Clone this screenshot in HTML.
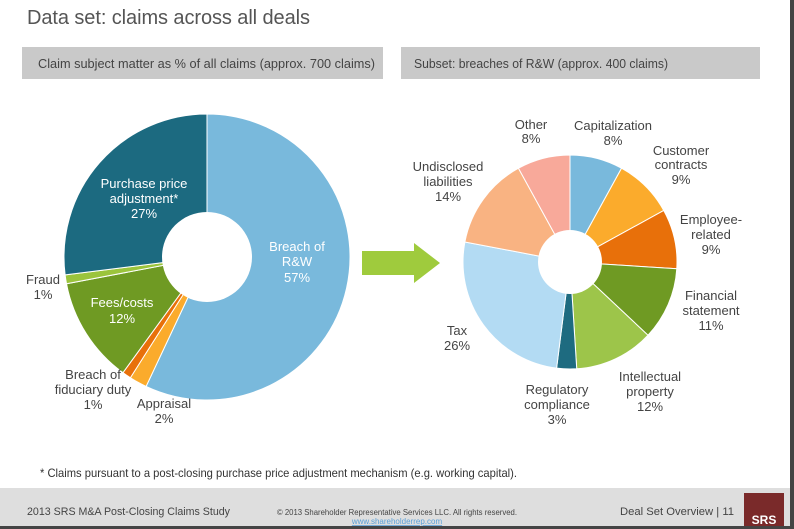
<!DOCTYPE html><html><head><style>
body{margin:0;width:794px;height:529px;overflow:hidden;background:#fff;font-family:"Liberation Sans",sans-serif;position:relative}
</style></head><body>
<svg id="s" width="794" height="529" style="position:absolute;left:0;top:0" font-family="Liberation Sans, sans-serif">
<rect x="0" y="0" width="794" height="529" fill="#fff"/>
<text x="27" y="24" font-size="20" fill="#555" textLength="283">Data set: claims across all deals</text>
<rect x="22" y="47" width="361" height="32" fill="#c9c9c9"/>
<rect x="401" y="47" width="359" height="32" fill="#c9c9c9"/>
<text x="38" y="68" font-size="13" fill="#444" textLength="337" lengthAdjust="spacingAndGlyphs">Claim subject matter as % of all claims (approx. 700 claims)</text>
<text x="414" y="68" font-size="13" fill="#444" textLength="254" lengthAdjust="spacingAndGlyphs">Subset: breaches of R&amp;W (approx. 400 claims)</text>
<g id="p"></g>
<polygon points="362,251 414,251 414,243 440,263 414,283 414,275 362,275" fill="#9fcb3d"/>
<g font-size="13" fill="#444" text-anchor="middle">
<text x="297" y="251" fill="#fff">Breach of</text><text x="297" y="266" fill="#fff">R&amp;W</text><text x="297" y="282" fill="#fff">57%</text>
<text x="144" y="188" fill="#fff">Purchase price</text><text x="144" y="203" fill="#fff">adjustment*</text><text x="144" y="218" fill="#fff">27%</text>
<text x="122" y="307" fill="#fff">Fees/costs</text><text x="122" y="323" fill="#fff">12%</text>
<text x="43" y="284">Fraud</text><text x="43" y="299">1%</text>
<text x="93" y="379">Breach of</text><text x="93" y="394">fiduciary duty</text><text x="93" y="409">1%</text>
<text x="164" y="408">Appraisal</text><text x="164" y="423">2%</text>
<text x="531" y="129">Other</text><text x="531" y="143">8%</text>
<text x="613" y="130">Capitalization</text><text x="613" y="145">8%</text>
<text x="681" y="155">Customer</text><text x="681" y="169">contracts</text><text x="681" y="184">9%</text>
<text x="711" y="224">Employee-</text><text x="711" y="239">related</text><text x="711" y="254">9%</text>
<text x="711" y="300">Financial</text><text x="711" y="315">statement</text><text x="711" y="330">11%</text>
<text x="650" y="381">Intellectual</text><text x="650" y="396">property</text><text x="650" y="411">12%</text>
<text x="557" y="394">Regulatory</text><text x="557" y="409">compliance</text><text x="557" y="424">3%</text>
<text x="457" y="335">Tax</text><text x="457" y="350">26%</text>
<text x="448" y="171">Undisclosed</text><text x="448" y="186">liabilities</text><text x="448" y="201">14%</text>
</g>
<text x="40" y="477" font-size="12" fill="#333" textLength="477" lengthAdjust="spacingAndGlyphs">* Claims pursuant to a post-closing purchase price adjustment mechanism (e.g. working capital).</text>
<rect x="0" y="488" width="794" height="41" fill="#dedede"/>
<text x="27" y="515" font-size="11" fill="#444" textLength="203" lengthAdjust="spacingAndGlyphs">2013 SRS M&amp;A Post-Closing Claims Study</text>
<text x="397" y="515" font-size="8" fill="#444" text-anchor="middle" textLength="240" lengthAdjust="spacingAndGlyphs">© 2013 Shareholder Representative Services LLC. All rights reserved.</text>
<text x="397" y="524" font-size="8" fill="#5aa0d8" text-anchor="middle" text-decoration="underline">www.shareholderrep.com</text>
<text x="620" y="515" font-size="11" fill="#444" textLength="114" lengthAdjust="spacingAndGlyphs">Deal Set Overview  |  11</text>
<rect x="744" y="493" width="40" height="33" fill="#7a2a2a"/>
<text x="764" y="524" font-size="12" fill="#fff" text-anchor="middle" font-weight="bold">SRS</text>
<rect x="790" y="0" width="4" height="529" fill="#444"/>
<rect x="0" y="526" width="794" height="3" fill="#444"/>
</svg>
<script>
function pie(cx,cy,r,ri,data){var g=document.getElementById('p'),a=-Math.PI/2,tot=0;data.forEach(d=>tot+=d[0]);
data.forEach(d=>{var b=a+d[0]/tot*2*Math.PI,l=(b-a)>Math.PI?1:0;
var p='M'+(cx+r*Math.cos(a))+','+(cy+r*Math.sin(a))+'A'+r+','+r+' 0 '+l+' 1 '+(cx+r*Math.cos(b))+','+(cy+r*Math.sin(b))+'L'+cx+','+cy+'Z';
var e=document.createElementNS('http://www.w3.org/2000/svg','path');e.setAttribute('d',p);e.setAttribute('fill',d[1]);e.setAttribute('stroke','#fff');e.setAttribute('stroke-width','1');g.appendChild(e);a=b;});
var c=document.createElementNS('http://www.w3.org/2000/svg','circle');c.setAttribute('cx',cx);c.setAttribute('cy',cy);c.setAttribute('r',ri);c.setAttribute('fill','#fff');g.appendChild(c);}
pie(207,257,143,45,[[57,'#79b9dc'],[2,'#fbab2c'],[1,'#e8700a'],[12,'#6f9a23'],[1,'#9bc43c'],[27,'#1c6a80']]);
pie(570,262,107,32,[[8,'#79b9dc'],[9,'#fbab2c'],[9,'#e8700a'],[11,'#6f9a23'],[12,'#9dc54a'],[3,'#1e6b80'],[26,'#b3dbf3'],[14,'#f9b382'],[8,'#f8a99a']]);
</script>
</body></html>
